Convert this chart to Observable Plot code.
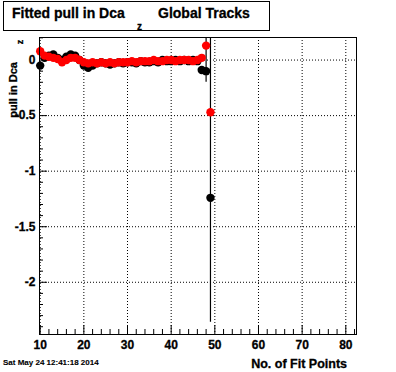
<!DOCTYPE html>
<html>
<head>
<meta charset="utf-8">
<script src="https://cdn.jsdelivr.net/npm/d3@7"></script>
<script src="https://cdn.jsdelivr.net/npm/@observablehq/plot@0.6"></script>
<style>
  html, body { margin: 0; padding: 0; background: #fff; }
  #chart { width: 396px; height: 372px; }
  #chart svg g[aria-label$="tick label"] text { font-weight: bold; font-size: 12px; stroke: #000; stroke-width: 0.3px; }
  #chart svg g.deco text { stroke: #000; stroke-width: 0.3px; }
</style>
</head>
<body>
<div id="chart"></div>
<script>
// ---- data ----
const nFitPoints = [10,11,12,13,14,15,16,17,18,19,20,21,22,23,24,25,26,27,28,29,
                    30,31,32,33,34,35,36,37,38,39,40,41,42,43,44,45,46,47,48,49];
const pullBlack = [-0.05,0.02,0.04,0.05,0.02,0.00,0.03,0.05,0.04,0.00,
                   -0.05,-0.07,-0.05,-0.03,-0.02,-0.03,-0.04,-0.03,-0.02,-0.03,
                   -0.02,-0.02,-0.03,-0.01,-0.02,-0.02,-0.01,-0.02,0.00,-0.01,
                   -0.01,0.00,-0.01,0.00,-0.01,0.00,-0.01,-0.09,-0.10,-1.24];
const pullRed = [0.08,0.04,0.03,0.02,0.01,-0.02,0.00,0.02,0.02,0.00,
                 -0.02,-0.03,-0.02,-0.03,-0.02,-0.03,-0.02,-0.03,-0.02,-0.02,
                 -0.02,-0.01,-0.02,-0.01,-0.01,-0.01,0.00,-0.01,-0.01,0.00,
                 0.00,-0.01,0.00,0.00,0.00,-0.01,0.00,0.02,0.13,-0.47];
const errRed = [0.01,0.01,0.01,0.01,0.01,0.01,0.01,0.01,0.01,0.01,
                0.01,0.01,0.01,0.01,0.01,0.01,0.01,0.01,0.01,0.01,
                0.01,0.01,0.01,0.01,0.01,0.01,0.01,0.01,0.01,0.01,
                0.01,0.01,0.01,0.01,0.01,0.01,0.01,0.02,0.33,1.89];
const xMajorTicks = [10,20,30,40,50,60,70,80];
const xMinorTicks = [12,14,16,18,22,24,26,28,32,34,36,38,42,44,46,48,52,54,56,58,62,64,66,68,72,74,76,78,82];
const yMajorTicks = [0,-0.5,-1,-1.5,-2];
const yMinorTicks = [0.2,0.1,-0.1,-0.2,-0.3,-0.4,-0.6,-0.7,-0.8,-0.9,-1.1,-1.2,-1.3,-1.4,
                     -1.6,-1.7,-1.8,-1.9,-2.1,-2.2,-2.3,-2.4];
const titleMain = "Fitted pull in Dca";
const titleSub = "z";
const titleRest = "Global Tracks";
const yTitle = "pull in Dca";
const yTitleSub = "z";
const xTitle = "No. of Fit Points";
const dateStamp = "Sat May 24 12:41:18 2014";

const black = nFitPoints.map((n, i) => ({n, v: pullBlack[i]}));
const red = nFitPoints.map((n, i) => ({n, v: pullRed[i], e: errRed[i]}));

const W = 396, H = 372;
const mL = 39, mR = 40, mT = 37, mB = 38;
const fw = W - mL - mR, fh = H - mT - mB;
const font = "'Liberation Sans', Arial, Helvetica, sans-serif";

const plot = Plot.plot({
  width: W,
  height: H,
  marginLeft: mL, marginRight: mR, marginTop: mT, marginBottom: mB,
  style: {fontFamily: font, background: "#fff", color: "#000"},
  x: {domain: [9.84, 82.45], label: null},
  y: {domain: [-2.47, 0.203], label: null},
  marks: [
    Plot.gridX(xMajorTicks, {stroke: "#000", strokeOpacity: 1, strokeDasharray: "1,2", strokeWidth: 1}),
    Plot.gridY(yMajorTicks, {stroke: "#000", strokeOpacity: 1, strokeDasharray: "1,2", strokeWidth: 1}),
    Plot.tickX(xMajorTicks, {x: d => d, insetTop: fh - 9, stroke: "#000"}),
    Plot.tickX(xMinorTicks, {x: d => d, insetTop: fh - 5, stroke: "#000"}),
    Plot.tickY(yMajorTicks, {y: d => d, insetRight: fw - 8, stroke: "#000"}),
    Plot.tickY(yMinorTicks, {y: d => d, insetRight: fw - 4, stroke: "#000"}),
    Plot.axisX(xMajorTicks, {tickSize: 0, tickPadding: 5.5, fontSize: 12, fontWeight: "bold", tickFormat: d => String(d)}),
    Plot.axisY(yMajorTicks, {tickSize: 0, tickPadding: 4, fontSize: 12, fontWeight: "bold", tickFormat: d => String(d)}),
    Plot.ruleX(red, {x: "n", y1: d => d.v - d.e, y2: d => d.v + d.e, stroke: "#000", strokeWidth: 1.2, clip: true}),
    Plot.dot(black, {x: "n", y: "v", r: 4.2, fill: "#000", stroke: "none"}),
    Plot.dot(red, {x: "n", y: "v", r: 4.2, fill: "#ff0000", stroke: "none"}),
    Plot.frame({stroke: "#000", strokeWidth: 1})
  ]
});

document.getElementById("chart").appendChild(plot);

// ---- text decorations (title box, axis titles, date stamp) ----
const svg = d3.select(plot);
const g = svg.append("g").attr("class", "deco").attr("font-family", font).attr("fill", "#000")
  .attr("text-anchor", "start").attr("font-weight", "bold");

g.append("rect").attr("x", 3.5).attr("y", 1.5).attr("width", 266).attr("height", 29)
  .attr("fill", "#fff").attr("stroke", "#000").attr("stroke-width", 1);
g.append("text").attr("x", 12).attr("y", 18.3).attr("font-size", 14).attr("text-anchor", "start").text(titleMain);
g.append("text").attr("x", 137).attr("y", 30).attr("font-size", 10).attr("text-anchor", "start").text(titleSub);
g.append("text").attr("x", 158).attr("y", 18.3).attr("font-size", 14).attr("text-anchor", "start").text(titleRest);

g.append("text").attr("transform", "translate(17,62) rotate(-90)")
  .attr("text-anchor", "end").attr("font-size", 11).text(yTitle);
g.append("text").attr("transform", "translate(23,42) rotate(-90)")
  .attr("text-anchor", "middle").attr("font-size", 9).text(yTitleSub);

g.append("text").attr("x", 347).attr("y", 368).attr("text-anchor", "end")
  .attr("font-size", 12.5).text(xTitle);

g.append("text").attr("x", 3).attr("y", 365).attr("text-anchor", "start")
  .attr("font-size", 8).style("stroke-width", "0.1px").text(dateStamp);
</script>
</body>
</html>
